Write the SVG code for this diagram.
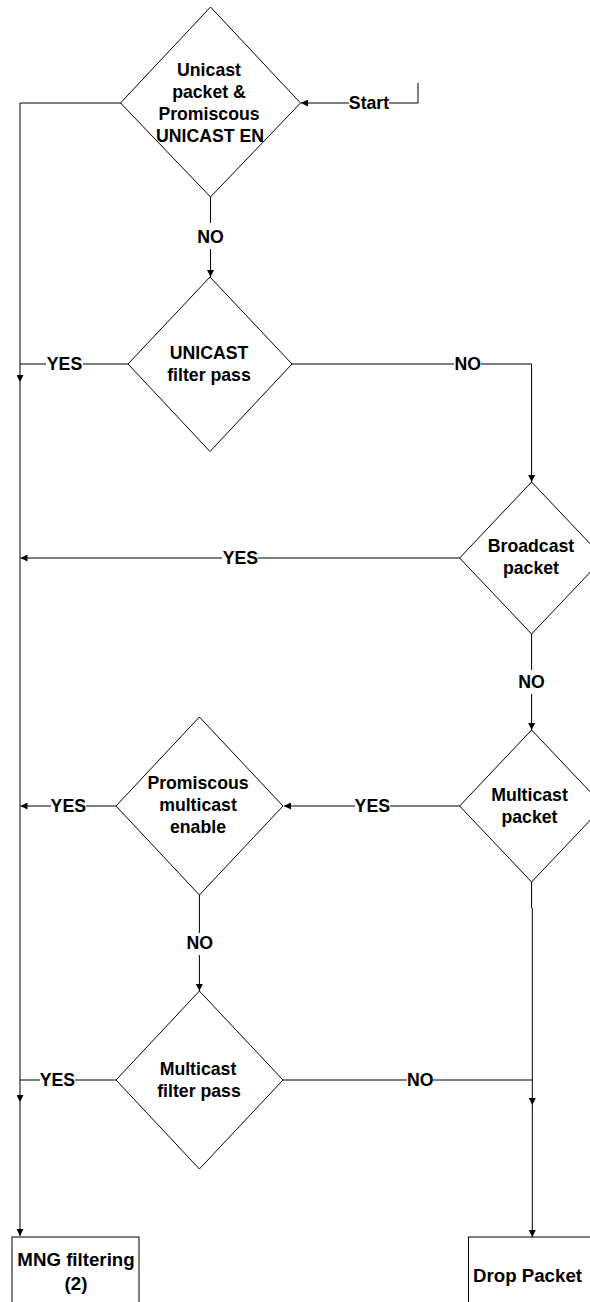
<svg xmlns="http://www.w3.org/2000/svg" width="590" height="1302" viewBox="0 0 590 1302">
<style>
.shape{fill:#fff;stroke:#000;stroke-width:1}
.ln{fill:none;stroke:#000;stroke-width:1}
.t{font-family:"Liberation Sans",Arial,sans-serif;font-weight:bold;font-size:17.7px;fill:#000;text-anchor:middle}
.bt{font-family:"Liberation Sans",Arial,sans-serif;font-weight:bold;font-size:18.7px;fill:#000;text-anchor:middle}
</style>
<defs>
<marker id="ah" viewBox="0 0 10 10" refX="10" refY="5" markerWidth="7" markerHeight="7" markerUnits="userSpaceOnUse" orient="auto">
<path d="M0,0 L10,5 L0,10 z" fill="#000"/>
</marker>
</defs>
<rect width="590" height="1302" fill="#fff"/>
<g id="connectors">
<!-- main left trunk -->
<path class="ln" d="M121,103 H20 V382" marker-end="url(#ah)"/>
<path class="ln" d="M20,382 V1102" marker-end="url(#ah)"/>
<path class="ln" d="M20,1102 V1236" marker-end="url(#ah)"/>
<!-- start -->
<path class="ln" d="M418,83 V103 H389"/>
<path class="ln" d="M349,103 H301" marker-end="url(#ah)"/>
<!-- d1 -> d2 NO -->
<path class="ln" d="M210.5,197 V223"/>
<path class="ln" d="M210.5,249 V277" marker-end="url(#ah)"/>
<!-- d2 YES left -->
<path class="ln" d="M128,364 H83"/>
<path class="ln" d="M46,364 H20"/>
<!-- d2 NO right -->
<path class="ln" d="M292,364 H454"/>
<path class="ln" d="M481,364 H531.6 V482" marker-end="url(#ah)"/>
<!-- broadcast YES left -->
<path class="ln" d="M460,558 H258"/>
<path class="ln" d="M222,558 H20.5" marker-end="url(#ah)"/>
<!-- broadcast NO down -->
<path class="ln" d="M531.6,634 V670"/>
<path class="ln" d="M531.6,694 V730" marker-end="url(#ah)"/>
<!-- multicast YES -> promisc -->
<path class="ln" d="M460,806 H390"/>
<path class="ln" d="M355,806 H284" marker-end="url(#ah)"/>
<!-- promisc YES left -->
<path class="ln" d="M116,806 H86"/>
<path class="ln" d="M51,806 H20.5" marker-end="url(#ah)"/>
<!-- promisc NO down -->
<path class="ln" d="M199.4,895 V933"/>
<path class="ln" d="M199.4,955 V991" marker-end="url(#ah)"/>
<!-- mfp YES left -->
<path class="ln" d="M116,1080 H75"/>
<path class="ln" d="M40,1080 H20"/>
<!-- mfp NO right -->
<path class="ln" d="M283,1080 H407"/>
<path class="ln" d="M433,1080 H532.3"/>
<!-- multicast NO down to drop -->
<path class="ln" d="M531.6,882 V908"/>
<path class="ln" d="M532.3,908 V1105" marker-end="url(#ah)"/>
<path class="ln" d="M532.3,1105 V1237" marker-end="url(#ah)"/>
<g id="labels">
<text class="t" x="369" y="109">Start</text>
<text class="t" x="210.5" y="242.5">NO</text>
<text class="t" x="64.5" y="370">YES</text>
<text class="t" x="467.7" y="370">NO</text>
<text class="t" x="240.4" y="564">YES</text>
<text class="t" x="531.6" y="688">NO</text>
<text class="t" x="372.3" y="812">YES</text>
<text class="t" x="68.3" y="812">YES</text>
<text class="t" x="199.8" y="949">NO</text>
<text class="t" x="57.4" y="1086">YES</text>
<text class="t" x="420.3" y="1086">NO</text>
</g>
</g>
<g id="d1">
<polygon class="shape" points="210.5,7 300.5,103 210.5,197 120.5,103"/>
<text class="t" x="209" y="76">Unicast</text>
<text class="t" x="209" y="98">packet &amp;</text>
<text class="t" x="209" y="120">Promiscous</text>
<text class="t" x="210" y="142">UNICAST EN</text>
</g>
<g id="d2">
<polygon class="shape" points="210,277 292,364 210,451.5 128,364"/>
<text class="t" x="209" y="359">UNICAST</text>
<text class="t" x="209" y="381">filter pass</text>
</g>
<g id="broadcast">
<polygon class="shape" points="531.6,482 603.6,558 531.6,634 459.6,558"/>
<text class="t" x="531" y="552">Broadcast</text>
<text class="t" x="531" y="574">packet</text>
</g>
<g id="multicast">
<polygon class="shape" points="531.6,730 603.6,806 531.6,882 459.6,806"/>
<text class="t" x="529.5" y="801">Multicast</text>
<text class="t" x="529.5" y="823">packet</text>
</g>
<g id="promisc">
<polygon class="shape" points="199.4,717 283,806 199.4,895 116,806"/>
<text class="t" x="198" y="789">Promiscous</text>
<text class="t" x="198" y="811">multicast</text>
<text class="t" x="198" y="833">enable</text>
</g>
<g id="mfp">
<polygon class="shape" points="199.4,991 283,1080 199.4,1169 116,1080"/>
<text class="t" x="198" y="1075">Multicast</text>
<text class="t" x="199" y="1097">filter pass</text>
</g>
<g id="mng">
<rect class="shape" x="12" y="1237" width="127" height="80"/>
<text class="bt" x="76" y="1266">MNG filtering</text>
<text class="bt" x="76" y="1290">(2)</text>
</g>
<g id="drop">
<rect class="shape" x="468.5" y="1237" width="140" height="80"/>
<text class="bt" x="527.5" y="1282">Drop Packet</text>
</g>
</svg>
